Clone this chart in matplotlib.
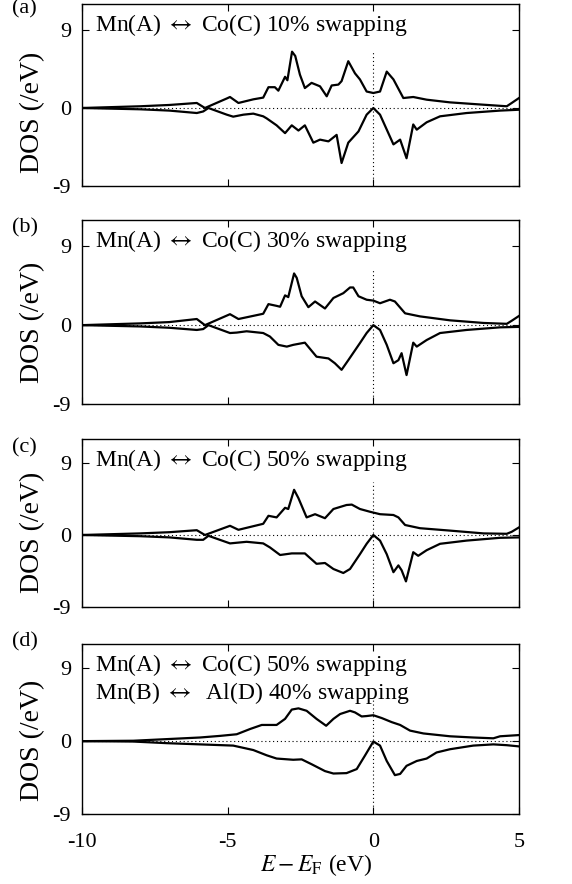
import numpy as np
import matplotlib
matplotlib.use("Agg")
import matplotlib.pyplot as plt

plt.rcParams['font.family'] = ['Liberation Serif', 'DejaVu Serif']
plt.rcParams['mathtext.fontset'] = 'stix'
plt.rcParams['axes.unicode_minus'] = False

# (a) Mn(A) <-> Co(C) 10%
e_a_up = [-10.0, -8.0, -7.0, -6.06, -5.78, -5.03, -4.92, -4.63, -4.12, -3.78, -3.60, -3.38, -3.26,
          -3.03, -2.95, -2.79, -2.68, -2.52, -2.35, -2.12, -1.83, -1.60, -1.43, -1.20, -1.09,
          -0.86, -0.63, -0.46, -0.23, 0.0, 0.23, 0.46, 0.69, 1.03, 1.37, 1.83, 2.63, 3.78,
          4.58, 4.75, 5.0]
dos_a_up = [0.0, 0.2, 0.35, 0.58, 0.0, 1.1, 1.27, 0.58, 1.0, 1.2, 2.4, 2.4, 2.0,
            3.6, 3.2, 6.5, 6.0, 3.85, 2.3, 2.9, 2.5, 1.35, 2.6, 2.7, 3.1,
            5.4, 4.0, 3.3, 1.9, 1.73, 1.9, 4.2, 3.3, 1.15, 1.27, 0.96, 0.65, 0.38,
            0.2, 0.58, 1.15]
e_a_dn = [-10.0, -8.0, -7.0, -6.06, -5.84, -5.66, -5.03, -4.81, -4.46, -4.12, -3.78, -3.66, -3.32,
          -3.03, -2.80, -2.57, -2.35, -2.06, -1.83, -1.54, -1.26, -1.09, -0.86, -0.51, -0.23,
          0.0, 0.23, 0.69, 0.92, 1.14, 1.37, 1.49, 1.83, 2.29, 3.20, 4.35, 5.0]
dos_a_dn = [0.0, -0.15, -0.3, -0.58, -0.4, 0.0, -0.77, -1.0, -0.77, -0.65, -0.96, -1.2, -2.0,
            -2.9, -2.0, -2.6, -2.0, -4.0, -3.65, -3.85, -3.1, -6.35, -4.0, -2.7, -0.77,
            0.0, -0.77, -4.2, -3.65, -5.8, -1.9, -2.5, -1.65, -0.96, -0.58, -0.3, -0.2]

# (b) Mn(A) <-> Co(C) 30%
e_b_up = [-10.0, -8.0, -7.0, -6.06, -5.78, -4.92, -4.63, -3.78, -3.60, -3.32, -3.20, -3.03,
          -2.92, -2.72, -2.63, -2.46, -2.23, -2.00, -1.66, -1.37, -1.03, -0.80, -0.69, -0.51,
          -0.23, 0.0, 0.23, 0.57, 0.74, 1.09, 1.60, 2.63, 3.78, 4.58, 4.75, 5.0]
dos_b_up = [0.0, 0.2, 0.35, 0.7, 0.0, 1.25, 0.7, 1.3, 2.4, 2.2, 2.1, 3.4,
            3.2, 5.9, 5.4, 3.3, 2.05, 2.7, 1.9, 3.1, 3.65, 4.3, 4.3, 3.3,
            2.9, 2.8, 2.5, 2.9, 2.7, 1.35, 1.0, 0.55, 0.25, 0.15, 0.5, 1.05]
e_b_dn = [-10.0, -8.0, -7.0, -6.06, -5.84, -5.66, -4.92, -4.69, -4.35, -3.78, -3.55, -3.26,
          -2.97, -2.75, -2.35, -1.95, -1.54, -1.32, -1.09, -0.86, -0.46, -0.23, 0.0, 0.23,
          0.46, 0.69, 0.86, 0.97, 1.14, 1.37, 1.49, 1.83, 2.29, 3.20, 4.35, 5.0]
dos_b_dn = [0.0, -0.15, -0.3, -0.55, -0.45, 0.0, -0.9, -0.85, -0.7, -0.9, -1.3, -2.25,
            -2.45, -2.25, -2.0, -3.6, -3.8, -4.35, -5.1, -4.0, -2.05, -0.9, 0.0, -0.55,
            -2.25, -4.35, -4.0, -3.2, -5.7, -2.0, -2.45, -1.7, -0.9, -0.55, -0.25, -0.2]

# (c) Mn(A) <-> Co(C) 50%
e_c_up = [-10.0, -8.0, -7.0, -6.06, -5.78, -4.92, -4.63, -3.78, -3.60, -3.32, -3.03, -2.92,
          -2.72, -2.57, -2.29, -2.00, -1.66, -1.37, -0.92, -0.74, -0.46, -0.11, 0.23, 0.69,
          0.86, 1.09, 1.60, 2.63, 3.78, 4.58, 4.75, 5.0]
dos_c_up = [0.0, 0.2, 0.35, 0.6, 0.0, 1.15, 0.65, 1.4, 2.4, 2.2, 3.4, 3.25,
            5.65, 4.6, 2.2, 2.6, 2.1, 3.25, 3.75, 3.8, 3.25, 2.9, 2.6, 2.5,
            2.2, 1.25, 0.85, 0.55, 0.2, 0.15, 0.4, 0.95]
e_c_dn = [-10.0, -8.0, -7.0, -6.06, -5.84, -5.66, -4.92, -4.35, -3.78, -3.55, -3.20, -2.80,
          -2.35, -1.95, -1.66, -1.37, -1.03, -0.80, -0.46, -0.23, 0.0, 0.23, 0.46, 0.69,
          0.86, 0.97, 1.12, 1.37, 1.54, 1.83, 2.29, 3.20, 4.35, 5.0]
dos_c_dn = [0.0, -0.15, -0.3, -0.6, -0.6, -0.1, -1.05, -0.85, -1.05, -1.55, -2.5, -2.3,
            -2.3, -3.6, -3.5, -4.25, -4.75, -4.25, -2.4, -1.1, 0.0, -0.7, -2.4, -4.65,
            -3.8, -4.4, -5.8, -2.15, -2.6, -1.9, -1.1, -0.7, -0.35, -0.3]

# (d) Mn(A) <-> Co(C) 50% + Mn(B) <-> Al(D) 40%
e_d_up = [-10.0, -8.24, -7.09, -5.95, -5.26, -4.69, -4.23, -3.83, -3.32, -3.03, -2.80, -2.57,
          -2.29, -1.95, -1.62, -1.37, -1.14, -0.80, -0.63, -0.40, -0.23, 0.0, 0.29, 0.63,
          0.92, 1.26, 1.72, 2.63, 3.43, 4.12, 4.35, 5.0]
dos_d_up = [0.0, 0.05, 0.25, 0.45, 0.65, 0.85, 1.5, 2.0, 2.0, 2.75, 3.9, 4.05,
            3.75, 2.75, 1.9, 2.75, 3.35, 3.75, 3.55, 3.05, 3.1, 3.2, 2.85, 2.35,
            2.0, 1.3, 0.95, 0.6, 0.45, 0.35, 0.6, 0.75]
e_d_dn = [-10.0, -8.24, -7.09, -5.95, -4.81, -4.12, -3.66, -3.32, -2.75, -2.46, -2.12, -1.66,
          -1.37, -0.92, -0.57, -0.29, 0.0, 0.23, 0.46, 0.74, 0.92, 1.14, 1.49, 1.83,
          2.17, 2.63, 3.43, 4.12, 4.58, 5.0]
dos_d_dn = [0.0, -0.05, -0.25, -0.4, -0.55, -1.1, -1.75, -2.15, -2.3, -2.25, -2.85, -3.7,
            -4.0, -3.95, -3.45, -1.8, -0.05, -0.55, -2.45, -4.2, -4.05, -3.05, -2.45, -2.15,
            -1.4, -1.0, -0.55, -0.4, -0.5, -0.65]

ARROW = r"$\leftrightarrow$"
panel_tags = ["(a)", "(b)", "(c)", "(d)"]
panel_titles = [
    "Mn(A) " + ARROW + " Co(C) 10% swapping",
    "Mn(A) " + ARROW + " Co(C) 30% swapping",
    "Mn(A) " + ARROW + " Co(C) 50% swapping",
    "Mn(A) " + ARROW + " Co(C) 50% swapping\nMn(B) " + ARROW + "  Al(D) 40% swapping",
]
panels = [
    (e_a_up, dos_a_up, e_a_dn, dos_a_dn),
    (e_b_up, dos_b_up, e_b_dn, dos_b_dn),
    (e_c_up, dos_c_up, e_c_dn, dos_c_dn),
    (e_d_up, dos_d_up, e_d_dn, dos_d_dn),
]
# where the dotted Fermi line stops under the label
vline_tops = [6.7, 6.5, 6.6, 5.3]

W, H = 572, 884
fig = plt.figure(figsize=(W / 100, H / 100), dpi=100)

# axes frames in pixels: (top, bottom)
frames = [(4, 186), (220, 404), (439, 607), (644, 814)]
tag_y = [9, 228, 448, 642]
ylabel_shift = [17, 10, 9, 11]   # ylabel sits a bit below the axes centre
left, right = 82, 519

for i, (top, bot) in enumerate(frames):
    hpx = bot - top
    ax = fig.add_axes([left / W, 1 - bot / H, (right - left) / W, hpx / H])
    eu, du, ed, dd = panels[i]
    ax.axhline(0, color="black", lw=0.8, ls=(0, (1, 2.5)))
    ax.vlines(0, -9, vline_tops[i], color="black", lw=0.8, ls=(0, (1, 2.5)))
    ax.plot(eu, du, color="black", lw=1.6)
    ax.plot(ed, dd, color="black", lw=1.6)
    ax.set_xlim(-10, 5)
    ax.set_ylim(-9, 12)
    ax.set_yticks([-9, 0, 9])
    ax.set_xticks([-10, -5, 0, 5])
    ax.tick_params(direction="in", length=5, width=0.8, top=True, right=True,
                   labelsize=16)
    ax.tick_params(axis="x", pad=14)
    ax.tick_params(axis="y", pad=8)
    if i < 3:
        ax.set_xticklabels([])
    else:
        ax.set_xlabel(r"$E-E_{\rm F}$ (eV)", fontsize=17)
        ax.xaxis.set_label_coords(0.535, -0.225)
        ax.xaxis.label.set_va("top")
    for s in ax.spines.values():
        s.set_linewidth(1.0)
    ax.set_ylabel("DOS (/eV)", fontsize=20)
    ax.yaxis.set_label_coords(-0.084, 0.5 - ylabel_shift[i] / hpx)
    ax.text(0.03, 1 - 8 / hpx, panel_titles[i], transform=ax.transAxes, fontsize=17,
            va="top", ha="left", linespacing=1.12)
    fig.text(12 / W, 1 - tag_y[i] / H, panel_tags[i], fontsize=16,
             ha="left", va="center")

fig.savefig("out.png", dpi=100)
